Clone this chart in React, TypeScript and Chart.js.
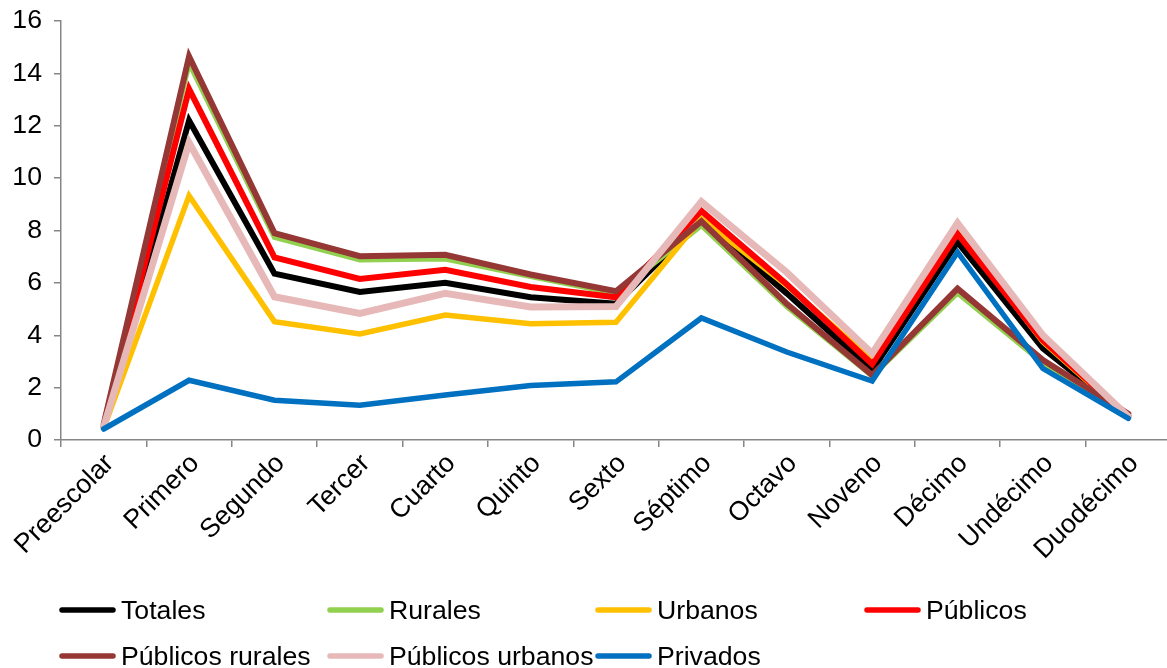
import React, { useEffect, useRef } from "react";
import { Chart, registerables } from "chart.js";

Chart.register(...registerables);

const categories = [
  "Preescolar", "Primero", "Segundo", "Tercer", "Cuarto", "Quinto", "Sexto",
  "Séptimo", "Octavo", "Noveno", "Décimo", "Undécimo", "Duodécimo",
];

const totales = [0.5, 12.2, 6.35, 5.65, 6.0, 5.45, 5.2, 8.4, 5.6, 2.67, 7.56, 3.5, 0.9];
const rurales = [0.6, 14.4, 7.75, 6.88, 6.92, 6.25, 5.6, 8.2, 5.1, 2.45, 5.62, 2.95, 0.95];
const urbanos = [0.45, 9.33, 4.52, 4.05, 4.77, 4.44, 4.5, 8.45, 5.9, 3.05, 8.0, 3.75, 0.85];
const publicos = [0.5, 13.4, 6.97, 6.15, 6.5, 5.84, 5.45, 8.75, 5.95, 2.9, 7.87, 3.8, 0.9];
const publicosRurales = [0.6, 14.65, 7.9, 7.02, 7.07, 6.32, 5.68, 8.35, 5.2, 2.48, 5.78, 3.05, 1.0];
const publicosUrbanos = [0.5, 11.35, 5.47, 4.83, 5.6, 5.08, 5.1, 9.1, 6.4, 3.3, 8.28, 4.0, 0.9];
const privados = [0.42, 2.28, 1.52, 1.33, 1.72, 2.08, 2.22, 4.66, 3.36, 2.25, 7.17, 2.73, 0.83];

const seriesNames = [
  "Totales", "Rurales", "Urbanos", "Públicos",
  "Públicos rurales", "Públicos urbanos", "Privados",
];
const seriesData = [totales, rurales, urbanos, publicos, publicosRurales, publicosUrbanos, privados];
const seriesColors = ["#000000", "#92D050", "#FFC000", "#FF0000", "#953735", "#E6B9B8", "#0070C0"];
const seriesWidths = [6, 5.5, 5.5, 6, 6, 7, 5.5];

const yTicks = [0, 2, 4, 6, 8, 10, 12, 14, 16];
const titleFragment = "centro educativo";

const FONT = '"Liberation Sans", Arial, sans-serif';
const FSIZE = 26.67;

const legendPlugin = {
  id: "customLegend",
  afterDraw(chart: any) {
    const ctx = chart.ctx;
    ctx.save();
    // title, almost entirely above the top edge
    ctx.font = `bold ${FSIZE}px ${FONT}`;
    ctx.fillStyle = "#000";
    ctx.textAlign = "center";
    ctx.textBaseline = "alphabetic";
    ctx.fillText(titleFragment, 586, 0);

    const colX = [121, 389, 657, 926];
    const rowLineY = [610, 656];
    const rowTextY = [619, 665];
    ctx.font = `${FSIZE}px ${FONT}`;
    ctx.textAlign = "left";
    seriesNames.forEach((name, i) => {
      const col = i < 4 ? i : i - 4;
      const row = i < 4 ? 0 : 1;
      const tx = colX[col];
      ctx.strokeStyle = seriesColors[i];
      ctx.lineWidth = 5.5;
      ctx.lineCap = "round";
      ctx.beginPath();
      ctx.moveTo(tx - 59, rowLineY[row]);
      ctx.lineTo(tx - 8, rowLineY[row]);
      ctx.stroke();
      ctx.fillStyle = "#000";
      ctx.fillText(name, tx, rowTextY[row]);
    });
    ctx.restore();
  },
};

export default function App() {
  const ref = useRef<HTMLCanvasElement | null>(null);

  useEffect(() => {
    if (!ref.current) return;
    const chart = new Chart(ref.current, {
      type: "line",
      data: {
        labels: categories,
        datasets: seriesNames.map((name, i) => ({
          label: name,
          data: seriesData[i],
          borderColor: seriesColors[i],
          backgroundColor: seriesColors[i],
          borderWidth: seriesWidths[i],
          pointRadius: 0,
          tension: 0,
          fill: false,
          borderCapStyle: "round",
          borderJoinStyle: "miter",
          order: seriesNames.length - 1 - i,
        })),
      },
      options: {
        responsive: false,
        animation: false,
        devicePixelRatio: 1,
        layout: { padding: { top: 21, left: 0, right: 1, bottom: 100 } },
        plugins: {
          legend: { display: false },
          tooltip: { enabled: false },
          title: { display: false },
        },
        scales: {
          x: {
            type: "category",
            offset: true,
            grid: {
              offset: true,
              drawOnChartArea: false,
              drawTicks: true,
              tickLength: 7,
              color: "#868686",
              lineWidth: 1.5,
            },
            border: { color: "#868686", width: 1.5 },
            ticks: {
              autoSkip: false,
              maxRotation: 45,
              minRotation: 45,
              padding: 1,
              labelOffset: 6,
              color: "#000",
              font: { family: FONT, size: FSIZE },
            },
            afterFit(scale: any) {
              scale.height = 128;
              scale.paddingLeft = 0;
              scale.paddingRight = 0;
            },
          },
          y: {
            min: 0,
            max: 16,
            afterBuildTicks(scale: any) {
              scale.ticks = yTicks.map((v) => ({ value: v }));
            },
            grid: {
              drawOnChartArea: false,
              drawTicks: true,
              tickLength: 7,
              color: "#868686",
              lineWidth: 1.5,
            },
            border: { color: "#868686", width: 1.5 },
            ticks: {
              padding: 12,
              color: "#000",
              font: { family: FONT, size: FSIZE },
            },
            afterFit(scale: any) {
              scale.width = 61;
              scale.paddingTop = 0;
              scale.paddingBottom = 0;
            },
          },
        },
      },
      plugins: [legendPlugin],
    } as any);
    return () => chart.destroy();
  }, []);

  return (
    <div
      style={{
        position: "absolute",
        left: 0,
        top: 0,
        width: 1167,
        height: 668,
        overflow: "hidden",
        background: "#fff",
      }}
    >
      <canvas ref={ref} width={1172} height={668} style={{ display: "block" }} />
    </div>
  );
}
